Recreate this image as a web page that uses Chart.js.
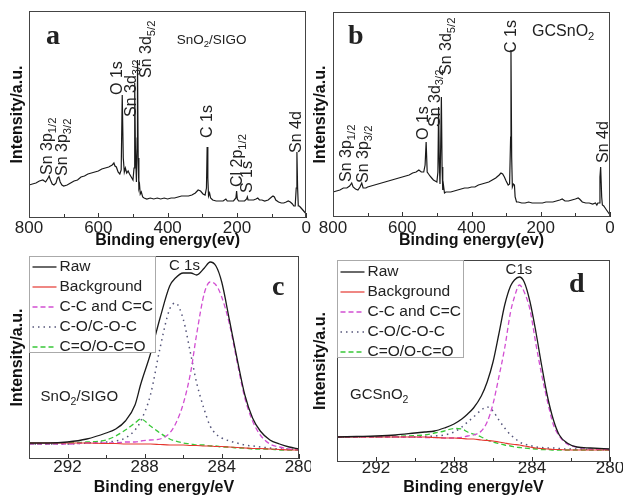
<!DOCTYPE html>
<html>
<head>
<meta charset="utf-8">
<script src="https://cdn.jsdelivr.net/npm/chart.js@4.4.1/dist/chart.umd.min.js"></script>
<style>
html, body { margin: 0; padding: 0; background: #fff; }
#wrap { position: relative; width: 623px; height: 497px; overflow: hidden; }
#wrap canvas { position: absolute; }
</style>
</head>
<body>
<div id="wrap">
  <canvas id="chart-a" width="311" height="250" style="left:0;top:0"></canvas>
  <canvas id="chart-b" width="312" height="250" style="left:311px;top:0"></canvas>
  <canvas id="chart-c" width="311" height="247" style="left:0;top:250px"></canvas>
  <canvas id="chart-d" width="312" height="247" style="left:311px;top:250px"></canvas>
</div>
<script>
// ---- Data ----

// (a) survey, SnO2/SIGO
const aEnergy = [800,790,780,770,760,752,745,742,738,733,728,722,718,714,710,705,700,690,680,670,660,650,640,630,620,610,600,590,580,570,560,555,552,548,543,538,534,531,528,525,522,518,514,510,505,500,497,495,493,490,488,487,485,483,481,479,476,472,468,460,450,440,430,420,410,400,390,380,370,360,350,340,330,320,312,305,298,292,288,286,284,282,279,276,270,260,250,240,232,228,220,210,203,201,199,195,185,178,172,170,168,160,152,145,140,135,128,120,110,100,96,92,88,80,72,65,58,52,46,40,36,32,29,27,25,23,20,15,10,5,0];
const aIntensity = [33,34,35,37,38,36,40,42,38,34,33,35,40,41,36,33,32,33,35,37,38,41,42,44,45,46,47,49,50,51,53,55,52,51,46,44,48,123,60,46,50,45,47,44,41,38,50,135,70,36,80,158,60,30,33,24,26,21,20,19,20,19,20,19,20,19,20,20,21,22,22,22,23,25,28,27,24,23,30,71,40,22,25,20,18,17,17,17,19,17,17,17,20,27,19,17,17,17,19,21,18,18,18,19,20,18,18,17,18,21,22,21,18,16,15,15,16,17,16,14,12,12,30,66,30,12,12,10,8,6,4];

// (b) survey, GCSnO2
const bEnergy = [800,790,780,770,760,752,746,742,735,728,722,717,713,705,700,690,680,670,660,650,640,630,620,610,600,590,580,570,560,552,545,538,534,531,528,524,520,515,510,505,500,497,495,493,491,489,487,485,483,481,478,474,470,460,450,440,430,420,410,400,390,380,370,360,350,340,330,320,315,310,305,300,294,290,287,286,284,282,279,276,274,270,265,255,245,235,225,215,205,195,185,175,165,155,145,138,130,120,110,100,92,88,80,70,60,50,42,38,35,31,29,27,24,22,18,12,6,0];
const bIntensity = [25,26,27,29,29,31,34,30,28,27,30,34,29,29,30,31,32,33,34,35,36,37,38,39,40,41,42,44,45,47,45,45,52,75,45,43,41,39,37,36,35,45,110,55,33,70,120,50,27,32,24,25,25,25,26,27,28,29,29,30,30,32,33,34,35,37,39,42,44,43,40,36,32,33,80,167,60,30,33,32,20,15,15,14,14,15,14,14,14,14,15,15,15,16,17,18,16,16,17,18,19,18,15,14,14,13,14,12,14,14,40,50,20,12,11,8,5,2];

// (c) C 1s, SnO2/SIGO
const cEnergy = [294,293,292,291,290,289.5,289,288.5,288.2,287.7,287.2,286.7,286.4,286,285.6,285.3,284.9,284.6,284.3,284,283.6,283.2,282.8,282.4,282,281.5,281,280.5,280];
const cRaw = [16,16,17,20,26,30,38,54,75,105,141,173,181,186,186,184,191,197,193,177,139,100,64,41,28,19,15,12,10];
const cBackground = [16,16,16,16,15.5,15.5,15,15,15,15,14.5,14,14,14,13.5,13.5,13,13,12.5,12.5,12,11.5,11,10.5,10.5,10,9.5,9,9];
const cCC = [15,15,15,16,16,16,17,17,18,19,20,26,35,55,88,125,166,177,174,162,135,97,61,38,24,15,12,10,9];
const cCO = [15,15,15,16,17,18,21,29,38,64,111,150,156,140,104,76,49,33,25,21,18,16,14,13,12,11,10,10,9];
const cCOO = [15,15,16,17,19,23,29,36,40,33,26,20,18,16,15,14,14,13,13,12,12,11,11,10,10,10,9,9,9];

// (d) C 1s, GCSnO2
const dEnergy = [294,293,292,291,290,289.5,289,288.5,288,287.6,287.3,287,286.6,286.3,286,285.7,285.4,285.1,284.9,284.65,284.4,284.1,283.8,283.5,283.2,282.9,282.6,282.2,281.7,281,280];
const dRaw = [25,25.5,26,27,29,30,31,34,38,43,48,54,66,80,100,128,157,176,182,185,180,160,130,96,65,42,27,19,15,14,13];
const dBackground = [25,25,25,25,25,25,24.5,24,24,23.5,23,23,22,21.5,21,20,19,18,17.5,17,16,15,14,13.5,13,12.5,12.5,12,12,12,12];
const dCC = [25,25,25,25,25,24.5,24.5,24,24,24.5,26,27,31,40,58,85,114,150,165,177,170,152,118,87,60,37,26,18,15,13,12.5];
const dCO = [25,25,25,25,25,25.5,26,27,30,35,40,45,52,55,51,42,34,27,24,20,18,16.5,15,14.5,14,14,13.5,13,13,12.5,12];
const dCOO = [25,25,25,25.5,26.5,27,29,31,33.5,33,30,28,25,22,20,18.5,17,16,15,14.5,14,13.5,13,12.5,12.5,12,12,12,12,12,12];

const fitLabels = ['Raw', 'Background', 'C-C and C=C', 'C-O/C-O-C', 'C=O/O-C=O'];

// ---- Drawing ----
const SANS = '"Liberation Sans", Arial, sans-serif';
const SERIF = '"Liberation Serif", "Times New Roman", serif';

function pairs(xs, ys) {
    return xs.map((x, i) => ({ x: x, y: ys[i] }));
}

// text with _{sub} parts
function drawRich(ctx, str, x, y, size, family, weight, align) {
    const parts = str.split(/_\{([^}]*)\}/);
    const subSize = size * 0.7;
    const fontOf = (i) => `${weight} ${i % 2 ? subSize : size}px ${family}`;
    let w = 0;
    parts.forEach((p, i) => { ctx.font = fontOf(i); w += ctx.measureText(p).width; });
    let cx = align === 'center' ? x - w / 2 : x;
    parts.forEach((p, i) => {
        ctx.font = fontOf(i);
        ctx.fillText(p, cx, i % 2 ? y + size * 0.32 : y);
        cx += ctx.measureText(p).width;
    });
}

const decorPlugin = {
    id: 'decor',
    afterDatasetsDraw(chart, args, opts) {
        const { ctx, chartArea: ca } = chart;
        const xs = chart.scales.x, ys = chart.scales.y;
        ctx.save();

        // inward tick marks on bottom axis
        ctx.strokeStyle = '#333';
        ctx.lineWidth = 1;
        xs.ticks.forEach(t => {
            const px = Math.round(xs.getPixelForValue(t.value)) + 0.5;
            const len = t.label === '' ? 4 : 5;
            ctx.beginPath();
            ctx.moveTo(px, ca.bottom);
            ctx.lineTo(px, ca.bottom - len);
            ctx.stroke();
        });

        // frame
        ctx.strokeStyle = '#444';
        ctx.strokeRect(Math.round(ca.left) + 0.5, Math.round(ca.top) + 0.5, Math.round(ca.width) - 1, Math.round(ca.height) - 1);

        // legend
        const L = opts.legend;
        if (L) {
            const bx = Math.round(ca.left) + 0.5, by = Math.round(ca.top) + 0.5;
            ctx.fillStyle = '#fff';
            ctx.fillRect(bx, by, L.width, L.height);
            ctx.strokeStyle = '#aaa';
            ctx.strokeRect(bx, by, L.width, L.height);
            ctx.textAlign = 'left';
            ctx.textBaseline = 'middle';
            chart.data.datasets.forEach((ds, i) => {
                const yy = by + L.first + i * L.step;
                ctx.strokeStyle = ds.borderColor;
                ctx.lineWidth = ds.borderWidth;
                ctx.setLineDash(ds.borderDash || []);
                ctx.beginPath();
                ctx.moveTo(bx + 3, yy);
                ctx.lineTo(bx + 27, yy);
                ctx.stroke();
                ctx.setLineDash([]);
                ctx.fillStyle = '#222';
                ctx.font = `15.5px ${SANS}`;
                ctx.fillText(ds.label, bx + 30, yy);
            });
        }

        // annotations
        ctx.textAlign = 'left';
        ctx.textBaseline = 'middle';
        (opts.texts || []).forEach(t => {
            const px = xs.getPixelForValue(t.x), py = ys.getPixelForValue(t.y);
            ctx.fillStyle = '#222';
            const fam = t.serif ? SERIF : SANS;
            const weight = t.bold ? 'bold' : 'normal';
            if (t.rotate) {
                ctx.save();
                ctx.translate(px, py);
                ctx.rotate(-Math.PI / 2);
                drawRich(ctx, t.text, 0, 0, t.size, fam, weight, 'left');
                ctx.restore();
            } else {
                drawRich(ctx, t.text, px, py, t.size, fam, weight, t.align || 'left');
            }
        });
        ctx.restore();
    }
};

function buildPanel(id, p) {
    return new Chart(document.getElementById(id), {
        type: 'line',
        data: { datasets: p.datasets },
        options: {
            responsive: false,
            animation: false,
            events: [],
            layout: { padding: { top: p.padTop, right: p.padRight, bottom: 0, left: 0 } },
            elements: { point: { radius: 0 } },
            plugins: {
                legend: { display: false },
                tooltip: { enabled: false },
                decor: { texts: p.texts, legend: p.legend }
            },
            scales: {
                x: {
                    type: 'linear',
                    reverse: true,
                    min: p.xMin,
                    max: p.xMax,
                    afterFit: s => { s.height = p.xAxisH; },
                    grid: { display: false, drawTicks: false },
                    border: { display: false },
                    ticks: {
                        stepSize: p.step,
                        autoSkip: false,
                        maxRotation: 0,
                        padding: p.tickPad,
                        color: '#222',
                        font: { family: SANS, size: 17 },
                        callback: v => (v % p.labelEvery === 0 ? String(v) : '')
                    },
                    title: {
                        display: true,
                        text: p.xTitle,
                        color: '#111',
                        font: { family: SANS, size: 16, weight: 'bold' },
                        padding: 0
                    }
                },
                y: {
                    min: 0,
                    max: p.yMax,
                    afterFit: s => { s.width = p.yAxisW; },
                    grid: { display: false, drawTicks: false },
                    border: { display: false },
                    ticks: { display: false },
                    title: {
                        display: true,
                        text: 'Intensity/a.u.',
                        color: '#111',
                        font: { family: SANS, size: 16, weight: 'bold' },
                        padding: { top: p.yTitlePad, bottom: 0 }
                    }
                }
            }
        },
        plugins: [decorPlugin]
    });
}

function surveySet(xs, ys) {
    return [{ label: 'survey', data: pairs(xs, ys), borderColor: '#1a1a1a', borderWidth: 1.2, tension: 0 }];
}

function fitSets(xs, series) {
    const styles = [
        { borderColor: '#1a1a1a', borderWidth: 1.3 },
        { borderColor: '#e5372f', borderWidth: 1.2 },
        { borderColor: '#d24fd2', borderWidth: 1.3, borderDash: [5, 3] },
        { borderColor: '#55557a', borderWidth: 1.5, borderDash: [1.5, 4] },
        { borderColor: '#38c838', borderWidth: 1.3, borderDash: [5, 3] }
    ];
    return series.map((ys, i) => Object.assign({
        label: fitLabels[i],
        data: pairs(xs, ys),
        cubicInterpolationMode: 'monotone'
    }, styles[i]));
}

buildPanel('chart-a', {
    datasets: surveySet(aEnergy, aIntensity),
    xMin: 0, xMax: 800, step: 100, labelEvery: 200, yMax: 207,
    padTop: 11, padRight: 4, xAxisH: 32, yAxisW: 29, tickPad: 0, yTitlePad: 8,
    xTitle: 'Binding energy(ev)',
    texts: [
        { text: 'a', x: 731, y: 181, size: 28, serif: true, bold: true, align: 'center' },
        { text: 'SnO_{2}/SIGO', x: 374, y: 178, size: 13.5 },
        { text: 'Sn 3p_{1/2}', x: 745, y: 43, size: 16, rotate: true },
        { text: 'Sn 3p_{3/2}', x: 702, y: 42, size: 16, rotate: true },
        { text: 'O 1s', x: 544, y: 123, size: 16, rotate: true },
        { text: 'Sn 3d_{3/2}', x: 504, y: 101, size: 16, rotate: true },
        { text: 'Sn 3d_{5/2}', x: 460, y: 140, size: 16, rotate: true },
        { text: 'C 1s', x: 285, y: 80, size: 16, rotate: true },
        { text: 'Cl 2p_{1/2}', x: 198, y: 31, size: 16, rotate: true },
        { text: 'S 1s', x: 170, y: 25, size: 16, rotate: true },
        { text: 'Sn 4d', x: 29, y: 65, size: 16, rotate: true }
    ]
});

buildPanel('chart-b', {
    datasets: surveySet(bEnergy, bIntensity),
    xMin: 0, xMax: 800, step: 100, labelEvery: 200, yMax: 205,
    padTop: 12, padRight: 13, xAxisH: 33, yAxisW: 22, tickPad: 1, yTitlePad: 0,
    xTitle: 'Binding energy(ev)',
    texts: [
        { text: 'b', x: 734, y: 180, size: 28, serif: true, bold: true, align: 'center' },
        { text: 'GCSnO_{2}', x: 225, y: 185, size: 16 },
        { text: 'Sn 3p_{1/2}', x: 760, y: 35, size: 16, rotate: true },
        { text: 'Sn 3p_{3/2}', x: 712, y: 34, size: 16, rotate: true },
        { text: 'O 1s', x: 539, y: 77, size: 16, rotate: true },
        { text: 'Sn 3d_{3/2}', x: 505, y: 90, size: 16, rotate: true },
        { text: 'Sn 3d_{5/2}', x: 472, y: 142, size: 16, rotate: true },
        { text: 'C 1s', x: 284, y: 164, size: 16, rotate: true },
        { text: 'Sn 4d', x: 19, y: 54, size: 16, rotate: true }
    ]
});

buildPanel('chart-c', {
    datasets: fitSets(cEnergy, [cRaw, cBackground, cCC, cCO, cCOO]),
    xMin: 280, xMax: 294, step: 2, labelEvery: 4, yMax: 203,
    padTop: 6, padRight: 8, xAxisH: 38, yAxisW: 29, tickPad: -2, yTitlePad: 8,
    xTitle: 'Binding energy/eV',
    legend: { width: 126, height: 96, first: 10.5, step: 20 },
    texts: [
        { text: 'C 1s', x: 285.93, y: 193, size: 15, align: 'center' },
        { text: 'c', x: 281.07, y: 171, size: 28, serif: true, bold: true, align: 'center' },
        { text: 'SnO_{2}/SIGO', x: 293.4, y: 62, size: 15 }
    ]
});

buildPanel('chart-d', {
    datasets: fitSets(dEnergy, [dRaw, dBackground, dCC, dCO, dCOO]),
    xMin: 280, xMax: 294, step: 2, labelEvery: 4, yMax: 202,
    padTop: 10, padRight: 13, xAxisH: 35, yAxisW: 26, tickPad: -4, yTitlePad: 0,
    xTitle: 'Binding energy/eV',
    legend: { width: 126, height: 97, first: 11.5, step: 20 },
    texts: [
        { text: 'C1s', x: 284.67, y: 192, size: 15, align: 'center' },
        { text: 'd', x: 281.7, y: 177, size: 28, serif: true, bold: true, align: 'center' },
        { text: 'GCSnO_{2}', x: 293.33, y: 67, size: 15 }
    ]
});
</script>
</body>
</html>
